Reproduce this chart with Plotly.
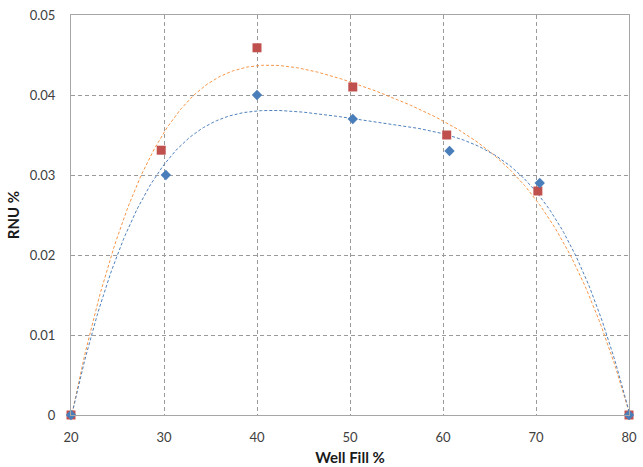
import numpy as np
import plotly.graph_objects as go

# Data
blue_x = [20, 30.2, 40, 50.3, 60.7, 70.4, 80]
blue_y = [0, 0.030, 0.040, 0.037, 0.033, 0.029, 0]
red_x = [20, 29.7, 40, 50.3, 60.4, 70.2, 80]
red_y = [0, 0.0331, 0.0459, 0.041, 0.035, 0.028, 0]

x_ticks = [20, 30, 40, 50, 60, 70, 80]
y_ticks = [0, 0.01, 0.02, 0.03, 0.04, 0.05]
y_tick_labels = ["0", "0.01", "0.02", "0.03", "0.04", "0.05"]

ORDER = 4
xs = np.linspace(20, 80, 300)
bfit = np.polyval(np.polyfit(blue_x, blue_y, ORDER), xs)
rfit = np.polyval(np.polyfit(red_x, red_y, ORDER), xs)

fig = go.Figure()
fig.add_trace(go.Scatter(x=xs, y=rfit, mode="lines",
                         line=dict(color="#f79646", width=1, dash="3px,2px"),
                         showlegend=False, hoverinfo="skip"))
fig.add_trace(go.Scatter(x=xs, y=bfit, mode="lines",
                         line=dict(color="#4f81bd", width=1, dash="3px,2px"),
                         showlegend=False, hoverinfo="skip"))
fig.add_trace(go.Scatter(x=red_x, y=red_y, mode="markers",
                         marker=dict(symbol="square", size=9, color="#c0504d"),
                         showlegend=False, cliponaxis=False))
fig.add_trace(go.Scatter(x=blue_x, y=blue_y, mode="markers",
                         marker=dict(symbol="diamond", size=8, color="#4a7ebb"),
                         showlegend=False, cliponaxis=False))

fam = "Lato, Open Sans, sans-serif"
axis_font = dict(family=fam, size=13, color="#404040")
title_font = dict(family=fam, size=15, color="#1a1a1a")
fig.update_xaxes(range=[20, 80], tickvals=x_ticks, showgrid=True,
                 gridcolor="#9a9a9a", griddash="4px,3px", gridwidth=1,
                 zeroline=False, showline=True, linecolor="#a6a6a6",
                 mirror=True, tickfont=axis_font, ticks="", ticklabelstandoff=10,
                 automargin=False, ticklabeloverflow="allow",
                 title=dict(text="<b>Well Fill %</b>", font=title_font, standoff=8))
fig.update_yaxes(range=[0, 0.05], tickvals=y_ticks, ticktext=y_tick_labels,
                 showgrid=True, gridcolor="#9a9a9a", griddash="4px,3px", gridwidth=1,
                 zeroline=False, showline=True, linecolor="#a6a6a6",
                 mirror=True, tickfont=axis_font, ticks="", ticklabelstandoff=12,
                 automargin=False, ticklabeloverflow="allow",
                 title=dict(text="<b>RNU %</b>", font=title_font, standoff=6))

fig.update_layout(width=643, height=467, plot_bgcolor="white", paper_bgcolor="white",
                  margin=dict(l=71, r=14, t=15, b=52))
fig.write_html("out.html", config={"displayModeBar": False},
               post_script="document.body.style.margin='0';document.body.style.overflow='hidden';")
